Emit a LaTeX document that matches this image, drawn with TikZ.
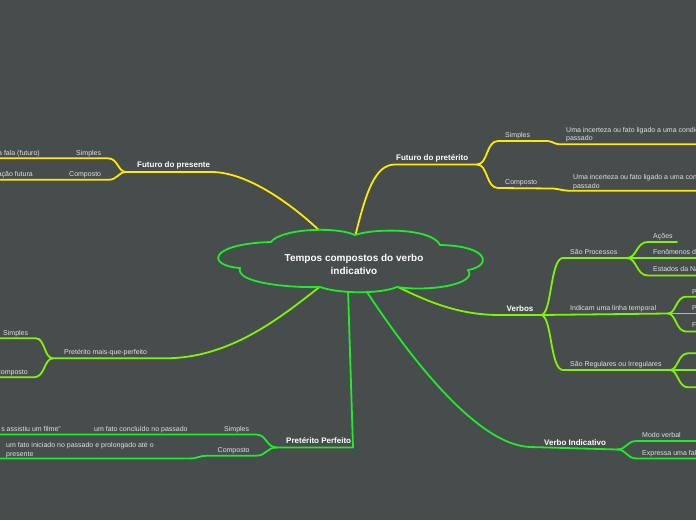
\documentclass[tikz,border=0pt]{standalone}
\usepackage{fontspec}
\setmainfont{Liberation Sans}
\definecolor{bg}{RGB}{71,76,77}
\definecolor{yel}{RGB}{255,235,0}
\definecolor{grn}{RGB}{30,236,40}
\definecolor{limeg}{RGB}{128,245,0}
\definecolor{txt}{RGB}{225,225,225}
\tikzset{
  lbl/.style={font=\fontsize{7}{8.5}\selectfont, text=txt, inner sep=0pt, anchor=base west, align=left},
  lble/.style={lbl, anchor=base east},
  ttl/.style={font=\bfseries\fontsize{8}{9}\selectfont, text=white, inner sep=0pt, anchor=base west},
  ln/.style={line width=1.8pt, line cap=round, line join=round},
}
\begin{document}
\begin{tikzpicture}[x=1pt,y=-1pt]
\fill[bg] (0,0) rectangle (696,520);
\useasboundingbox (0,0) rectangle (696,520);
\clip (0,0) rectangle (696,520);

% ---------- coordinates ----------
\coordinate (cFP) at (322,233);
\coordinate (cFPt) at (355,237);
\coordinate (cV) at (394,285);
\coordinate (cVI) at (365,289);
\coordinate (cPP) at (348,289);
\coordinate (cPM) at (322,285);
\coordinate (bFP) at (126,172);
\coordinate (bFPt) at (477,164.5);
\coordinate (bV) at (541,315);
\coordinate (bSP) at (627,258);
\coordinate (bIL) at (668,313.5);
\coordinate (bSR) at (670,370);
\coordinate (bVI) at (617,449.5);
\coordinate (bPP) at (277,447.5);
\coordinate (bPM) at (53,358.3);
\coordinate (eL) at (-5,0);
\coordinate (eR) at (705,0);

% ---------- Futuro do presente (yellow) ----------
\draw[ln, yel] (cFP) .. controls (295,207) and (250,173) .. (213,172) -- (bFP);
\draw[ln, yel] (bFP) .. controls (118,172) and (118,158.3) .. (108,158.3) -- (eL |- 0,158.3);
\draw[ln, yel] (bFP) .. controls (118,172) and (118,179.8) .. (108,179.8) -- (eL |- 0,179.8);
\node[ttl] (fp) at (137,167.5) {Futuro do presente};
\node[lbl] (fps) at (76,155.3) {Simples};
\node[lbl] (fpc) at (69,176.5) {Composto};
\node[lble] (fpst) at (40,155.3) {a fala (futuro)};
\node[lble] (fpct) at (33,176.5) {ação futura};

% ---------- Futuro do preterito (yellow) ----------
\draw[ln, yel] (cFPt) .. controls (366,192) and (375,164.5) .. (395,164.5) -- (bFPt);
\draw[ln, yel] (bFPt) .. controls (488,164.5) and (486,141) .. (498,141) -- (547,141)
   .. controls (553,141) and (553,144.3) .. (561,144.3) -- (eR |- 0,144.3);
\draw[ln, yel] (bFPt) .. controls (488,164.5) and (486,188) .. (498,188) -- (553,188.5)
   .. controls (560,189) and (562,190.8) .. (572,190.8) -- (eR |- 0,190.8);
\node[ttl] (fpt) at (396,160.5) {Futuro do pretérito};
\node[lbl] (fpts) at (505,137.2) {Simples};
\node[lbl] (fptc) at (505,184) {Composto};
\node[lbl] (fptst) at (566,140.5) {Uma incerteza ou fato ligado a uma condição no\\passado};
\node[lbl] (fptct) at (573,188) {Uma incerteza ou fato ligado a uma condição no\\passado};

% ---------- Verbos (lime) ----------
\draw[ln, limeg] (cV) .. controls (430,303) and (460,315) .. (500,315) -- (bV);
\draw[ln, limeg] (bV) .. controls (552,315) and (550,258) .. (563,258) -- (bSP);
\draw[ln, limeg] (bSP) .. controls (637,258) and (636,242) .. (648,242) -- (677,242);
\draw[ln, limeg] (bSP) -- (eR |- 0,258);
\draw[ln, limeg] (bSP) .. controls (637,258) and (636,275.5) .. (648,275.5) -- (eR |- 0,275.5);
\draw[ln, limeg] (bV) -- (bIL);
\draw[ln, limeg] (bIL) .. controls (676,313.5) and (676,296.7) .. (686,296.7) -- (eR |- 0,296.7);
\draw[ln, limeg] (bIL) -- (eR |- 0,313.5);
\draw[ln, limeg] (bIL) .. controls (676,313.5) and (676,331.5) .. (686,331.5) -- (eR |- 0,331.5);
\draw[ln, limeg] (bV) .. controls (552,315) and (550,370) .. (563,370) -- (bSR);
\draw[ln, limeg] (bSR) .. controls (678,370) and (678,353.3) .. (688,353.3) -- (eR |- 0,353.3);
\draw[ln, limeg] (bSR) -- (eR |- 0,370);
\draw[ln, limeg] (bSR) .. controls (678,370) and (678,387.3) .. (688,387.3) -- (eR |- 0,387.3);
\node[ttl] (v) at (506.5,311) {Verbos};
\node[lbl] (vsp) at (570,254.8) {São Processos};
\node[lbl] (va) at (653,238.2) {Ações};
\node[lbl] (vf) at (653,254.8) {Fenômenos da Natureza};
\node[lbl] (ve) at (653,271.8) {Estados da Natureza};
\node[lbl] (vil) at (570,310.8) {Indicam uma linha temporal};
\node[lbl] (vpa) at (692,294.2) {Passado};
\node[lbl] (vpr) at (692,310.8) {Presente};
\node[lbl] (vfu) at (692,327.8) {Futuro};
\node[lbl] (vsr) at (570,366.8) {São Regulares ou Irregulares};

% ---------- Verbo Indicativo (green) ----------
\draw[ln, grn] (cVI) .. controls (405,350) and (475,445) .. (530,447) -- (bVI);
\draw[ln, grn] (bVI) .. controls (627,449.5) and (626,441) .. (637,441) -- (eR |- 0,441);
\draw[ln, grn] (bVI) .. controls (627,449.5) and (626,458.5) .. (637,458.5) -- (eR |- 0,458.5);
\node[ttl] (vi) at (544,445) {Verbo Indicativo};
\node[lbl] (vim) at (642,437.2) {Modo verbal};
\node[lbl] (vie) at (642,455) {Expressa uma fala};

% ---------- Preterito Perfeito (green) ----------
\draw[ln, grn] (cPP) -- (353,447.5) -- (bPP);
\draw[ln, grn] (bPP) .. controls (266,447.5) and (267,434.5) .. (256,434.5) -- (eL |- 0,434.5);
\draw[ln, grn] (bPP) .. controls (266,447.5) and (267,455.7) .. (256,455.7) -- (207,455.7)
   .. controls (200,455.7) and (197,458.5) .. (190,458.5) -- (eL |- 0,458.5);
\node[ttl] (pp) at (286,443.3) {Pretérito Perfeito};
\node[lbl] (pps) at (224,431.5) {Simples};
\node[lbl] (ppsf) at (94,431.5) {um fato concluído no passado};
\node[lble] (ppse) at (61,431.5) {s assistiu um filme"};
\node[lbl] (ppc) at (217.5,452.2) {Composto};
\node[lbl] (ppcf) at (6,456.2) {um fato iniciado no passado e prolongado até o\\presente};

% ---------- Preterito mais-que-perfeito (lime) ----------
\draw[ln, limeg] (cPM) .. controls (280,318) and (230,358.3) .. (165,358.3) -- (bPM);
\draw[ln, limeg] (bPM) .. controls (44,358.3) and (45,338.3) .. (36,338.3) -- (eL |- 0,338.3);
\draw[ln, limeg] (bPM) .. controls (44,358.3) and (45,377.3) .. (34,377.3) -- (eL |- 0,377.3);
\node[lbl] (pm) at (64,354) {Pretérito mais-que-perfeito};
\node[lbl] (pms) at (3,335) {Simples};
\node[lble] (pmc) at (28,374) {Composto};

% ---------- central cloud ----------
\draw[grn, line width=1.8pt, fill=bg, line join=round]
  (240,268) .. controls (207,266) and (207,244) .. (271,242)
  .. controls (280,229) and (335,226) .. (355,235)
  .. controls (375,228) and (432,228) .. (440,245)
  .. controls (490,246) and (492,266) .. (468,270)
  .. controls (478,284) and (430,292) .. (397,287)
  .. controls (380,294) and (340,294) .. (320,287)
  .. controls (290,288) and (235,283) .. (240,268) -- cycle;
\node[font=\bfseries\fontsize{10}{13}\selectfont, text=white, align=center, inner sep=0pt] (root) at (354,264.5) {Tempos compostos do verbo\\indicativo};
\end{tikzpicture}
\end{document}
